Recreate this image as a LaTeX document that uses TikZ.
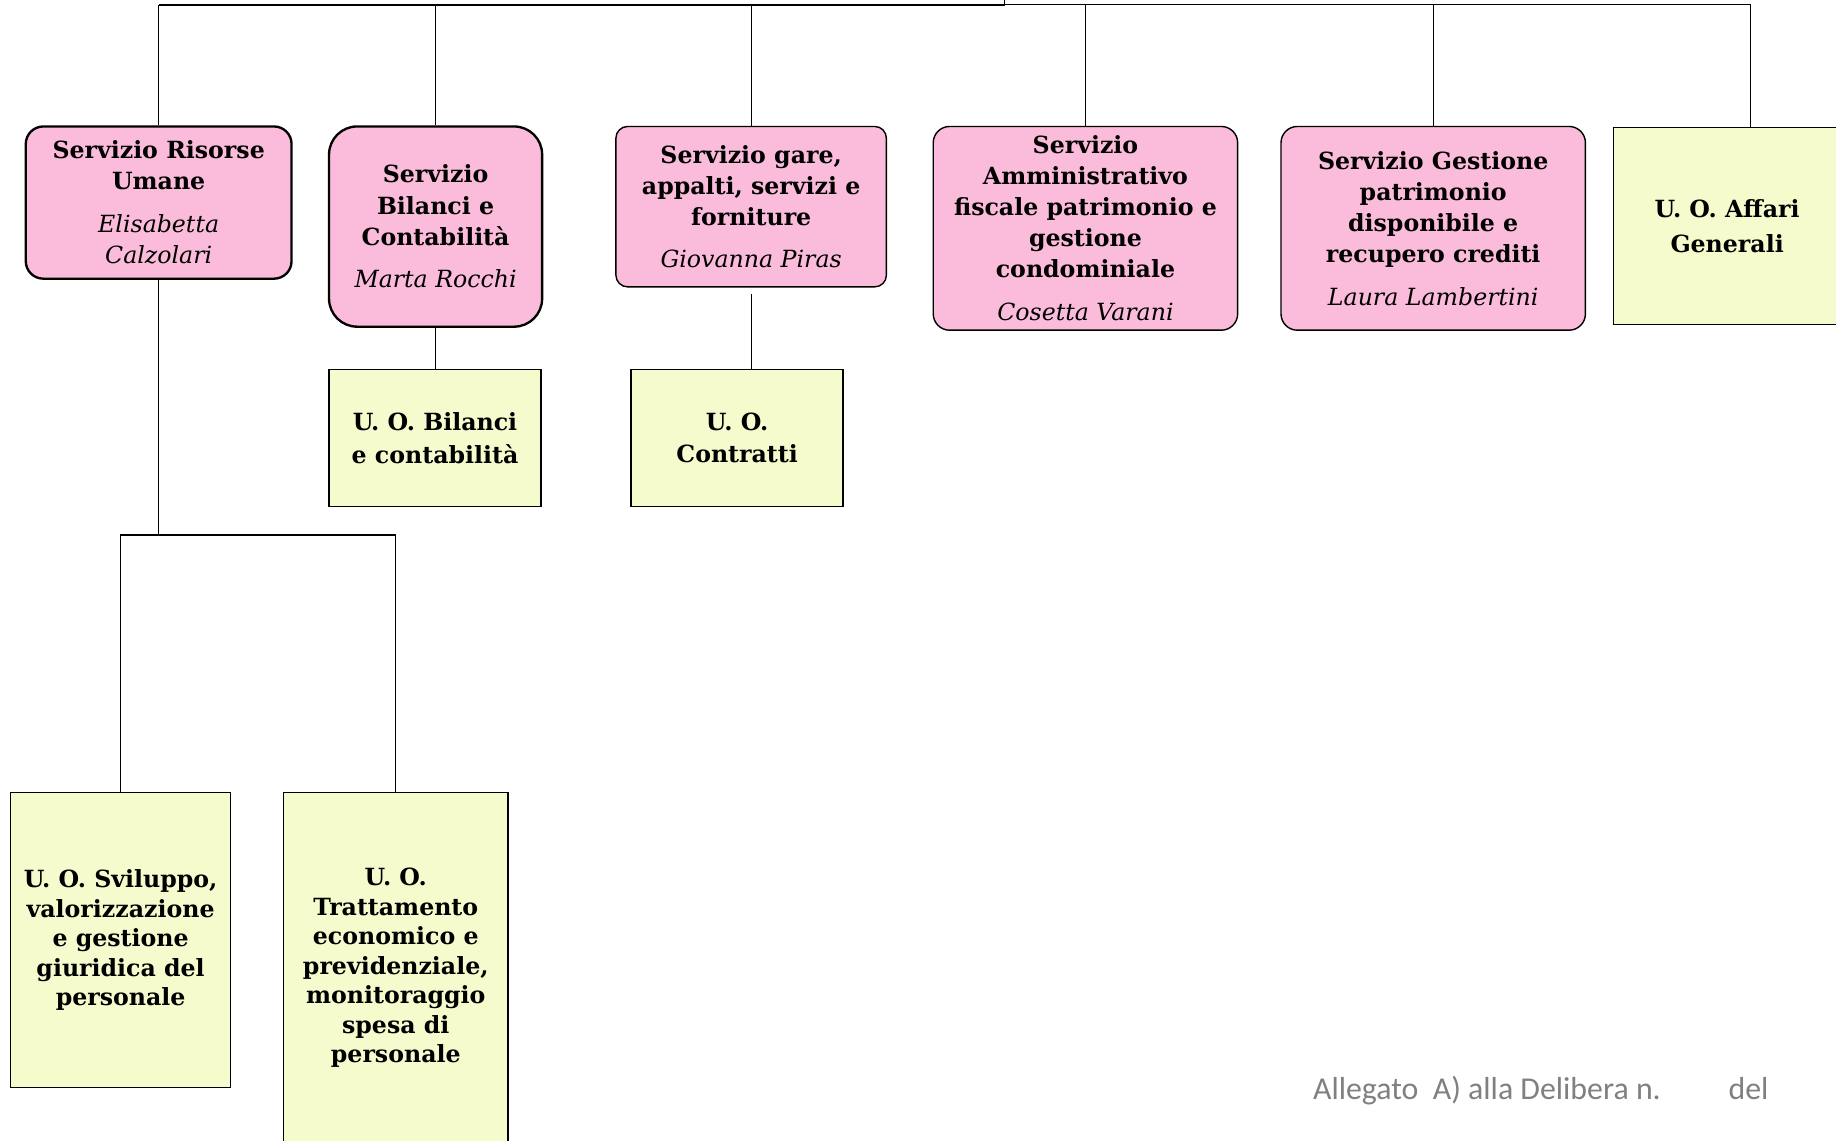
\documentclass[tikz,border=0pt]{standalone}
\usepackage{fontspec}
\setmainfont{DejaVu Serif}
\newfontfamily\footfont{Carlito}
\definecolor{pinkfill}{RGB}{250,188,218}
\definecolor{uofill}{RGB}{246,251,205}
\definecolor{footgray}{RGB}{128,128,128}
\tikzset{
  servizio/.style={draw, fill=pinkfill, align=center, inner sep=0pt, line width=0.6pt,
    font=\fontsize{10.1}{13.25}\selectfont\bfseries},
  uobox/.style={draw, fill=uofill, align=center, inner sep=0pt, line width=0.6pt,
    font=\fontsize{10.1}{12.6}\selectfont\bfseries},
  link/.style={line width=0.55pt}
}
\newcommand{\nome}[1]{\normalfont\itshape #1}
\begin{document}
\begin{tikzpicture}[x=0.5pt, y=-0.5pt]

    % Page frame (the chart is cut at the right and bottom edges)
    \clip (0,0) rectangle (1568,974);

    % Top line joining all services
    \coordinate (bus_l) at (136,4);
    \coordinate (bus_m) at (858,4);
    \coordinate (bus_r) at (1495,4);
    \draw[line width=1pt] (bus_l) -- (bus_m);
    \draw[link] (bus_m) -- (bus_r);
    \draw[link] (bus_m) -- (858,0);

    % Row of services
    % Draw service nodes
    \node[servizio, rounded corners=7.5pt, line width=1pt, minimum width=113.5pt, minimum height=65pt] (serv_ru) at (135.5,173)
      {Servizio Risorse\\Umane\\[5pt]\nome{Elisabetta}\\\nome{Calzolari}};
    \node[servizio, rounded corners=12pt, line width=1pt, minimum width=91pt, minimum height=85.5pt] (serv_bc) at (372,193.5)
      {Servizio\\Bilanci e\\Contabilità\\[5pt]\nome{Marta Rocchi}};
    \node[servizio, rounded corners=5pt, minimum width=115.5pt, minimum height=68.5pt] (serv_ga) at (641.5,176.5)
      {Servizio gare,\\appalti, servizi e\\forniture\\[5pt]\nome{Giovanna Piras}};
    \node[servizio, rounded corners=7pt, minimum width=130pt, minimum height=87pt] (serv_am) at (927,195)
      {Servizio\\Amministrativo\\fiscale patrimonio e\\gestione\\condominiale\\[5pt]\nome{Cosetta Varani}};
    \node[servizio, rounded corners=7pt, minimum width=130pt, minimum height=87pt] (serv_gp) at (1224,195)
      {Servizio Gestione\\patrimonio\\disponibile e\\recupero crediti\\[5pt]\nome{Laura Lambertini}};
    \node[uobox, font=\fontsize{10.1}{15}\selectfont\bfseries, minimum width=97pt, minimum height=84pt] (uo_ag) at (1475,193)
      {U. O. Affari\\Generali};
    % Draw drops from the top line
    \draw[link] (serv_ru.north) -- (serv_ru.north |- bus_l);
    \draw[link] (serv_bc.north) -- (serv_bc.north |- bus_l);
    \draw[link] (serv_ga.north) -- (serv_ga.north |- bus_l);
    \draw[link] (serv_am.north) -- (serv_am.north |- bus_l);
    \draw[link] (serv_gp.north) -- (serv_gp.north |- bus_l);
    \draw[link] (bus_r) -- (bus_r |- uo_ag.north);

    % Units under Bilanci and gare
    \node[uobox, font=\fontsize{10.1}{14}\selectfont\bfseries, minimum width=90.5pt, minimum height=58.5pt] (uo_bc) at (371.5,374)
      {U. O. Bilanci\\e contabilità};
    \node[uobox, font=\fontsize{10.1}{14}\selectfont\bfseries, minimum width=90.5pt, minimum height=58.5pt] (uo_co) at (629.5,374)
      {U. O.\\Contratti};
    \draw[link] (serv_bc.south) -- (serv_bc.south |- uo_bc.north);
    \coordinate (ga_drop) at (642,251);
    \draw[link] (ga_drop) -- (ga_drop |- uo_co.north);

    % Units under Risorse Umane
    \node[uobox, minimum width=94pt, minimum height=126pt] (uo_sv) at (103,803)
      {U. O. Sviluppo,\\valorizzazione\\e gestione\\giuridica del\\personale};
    \node[uobox, minimum width=96pt, minimum height=149.5pt] (uo_tr) at (338,826.5)
      {U. O.\\Trattamento\\economico e\\previdenziale,\\monitoraggio\\spesa di\\personale};
    % Draw split below Risorse Umane
    \coordinate (ru_split) at (136,457);
    \draw[link] (serv_ru.south) -- (serv_ru.south |- ru_split);
    \draw[link] (uo_sv.north) -- (uo_sv.north |- ru_split) -- (uo_tr.north |- ru_split) -- (uo_tr.north);

    % Footer
    \node[anchor=west, inner sep=0pt, text=footgray, font=\fontsize{13.6}{16}\selectfont\footfont] (foot) at (1121,931)
      {Allegato\ \ A) alla Delibera n.\hspace{29pt}del};

\end{tikzpicture}
\end{document}
